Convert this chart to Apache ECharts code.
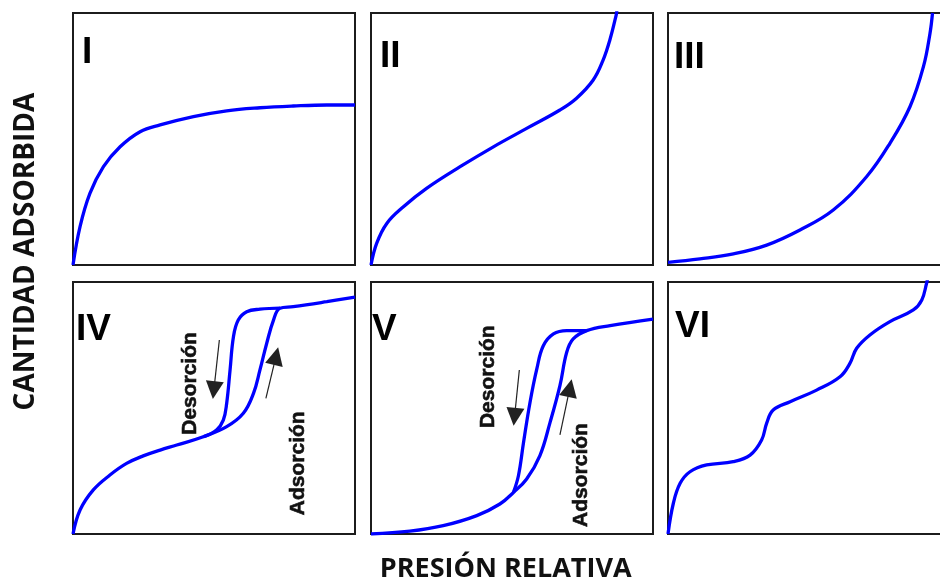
<!DOCTYPE html>
<html>
<head>
<meta charset="utf-8">
<script src="https://cdn.jsdelivr.net/npm/echarts@6/dist/echarts.min.js"></script>
<style>
  html, body { margin: 0; padding: 0; background: #ffffff; }
  #chart { width: 940px; height: 580px; }
</style>
</head>
<body>
<div id="chart"></div>
<script>
// Isotherm types (IUPAC I-VI): relative pressure (0-1) vs adsorbed amount (0-1)
const panelNames = ['I', 'II', 'III', 'IV', 'V', 'VI'];

const typeI = [[0, 0], [0.025, 0.152], [0.06, 0.284], [0.108, 0.39], [0.167, 0.469], [0.238, 0.529],
  [0.309, 0.556], [0.427, 0.589], [0.545, 0.612], [0.663, 0.624], [0.781, 0.631], [0.9, 0.635], [1, 0.635]];

const typeII = [[0, 0], [0.02, 0.086], [0.056, 0.165], [0.115, 0.231], [0.197, 0.304], [0.316, 0.39],
  [0.434, 0.469], [0.552, 0.542], [0.67, 0.615], [0.729, 0.662], [0.788, 0.734], [0.823, 0.813],
  [0.847, 0.893], [0.869, 0.99], [0.872, 1.01]];

const typeIII = [[0, 0.01], [0.113, 0.024], [0.232, 0.044], [0.35, 0.079], [0.468, 0.139], [0.586, 0.218],
  [0.704, 0.35], [0.787, 0.483], [0.858, 0.628], [0.906, 0.788], [0.929, 0.919], [0.938, 1.0]];

const typeIVAdsorcion = [[0, 0], [0.025, 0.095], [0.072, 0.175], [0.131, 0.234], [0.19, 0.28], [0.249, 0.31],
  [0.309, 0.333], [0.368, 0.353], [0.462, 0.386], [0.545, 0.426], [0.604, 0.479], [0.64, 0.558],
  [0.663, 0.651], [0.687, 0.757], [0.711, 0.849], [0.734, 0.896], [0.781, 0.902], [0.9, 0.922], [1, 0.94]];

const typeIVDesorcion = [[0.462, 0.386], [0.509, 0.413], [0.533, 0.452], [0.545, 0.519], [0.557, 0.651],
  [0.569, 0.783], [0.586, 0.849], [0.616, 0.882], [0.663, 0.892], [0.734, 0.896]];

const typeVAdsorcion = [[0, 0], [0.138, 0.011], [0.256, 0.033], [0.375, 0.073], [0.457, 0.119], [0.505, 0.165],
  [0.552, 0.218], [0.599, 0.311], [0.635, 0.443], [0.67, 0.589], [0.694, 0.721], [0.717, 0.774],
  [0.765, 0.807], [0.848, 0.827], [1, 0.853]];

const typeVDesorcion = [[0.505, 0.165], [0.523, 0.232], [0.541, 0.364], [0.564, 0.523], [0.588, 0.655],
  [0.611, 0.747], [0.647, 0.794], [0.694, 0.807], [0.765, 0.807]];

const typeVI = [[0, 0], [0.019, 0.122], [0.043, 0.201], [0.078, 0.247], [0.137, 0.274], [0.231, 0.287],
  [0.291, 0.313], [0.332, 0.373], [0.35, 0.44], [0.373, 0.492], [0.433, 0.525], [0.527, 0.571],
  [0.61, 0.624], [0.645, 0.677], [0.669, 0.737], [0.716, 0.79], [0.787, 0.843], [0.87, 0.889],
  [0.9, 0.929], [0.917, 0.995], [0.92, 1.01]];

// Direction arrows on the hysteresis loops: [from, to]
const arrowsIV = [
  [[0.519, 0.770], [0.4995, 0.571]],   // desorción (down)
  [[0.684, 0.538], [0.720, 0.706]]     // adsorción (up)
];
const arrowsV = [
  [[0.526, 0.651], [0.509, 0.465]],
  [[0.670, 0.393], [0.705, 0.579]]
];

const axisTitleX = 'PRESIÓN RELATIVA';
const axisTitleY = 'CANTIDAD ADSORBIDA';
const branchLabels = ['Desorción', 'Adsorción'];

const BLUE = '#0000ff';
const PANEL_W = 282, PANEL_H = 252;
const panelPos = [
  [73, 13], [371, 13], [668, 13],
  [73, 282], [371, 282], [668, 282]
];

const grids = panelPos.map(([l, t]) => ({
  left: l, top: t, width: PANEL_W, height: PANEL_H,
  outerBoundsMode: 'none',
  show: true, borderColor: '#1c1c1c', borderWidth: 2, backgroundColor: 'transparent'
}));

const hiddenAxis = (i) => ({
  type: 'value', gridIndex: i, min: 0, max: 1,
  show: false
});

function curve(data, idx) {
  return {
    type: 'line', xAxisIndex: idx, yAxisIndex: idx, data: data,
    showSymbol: false, symbol: 'none', smooth: 0.4,
    lineStyle: { color: BLUE, width: 3.3 },
    silent: true, animation: false
  };
}

function arrows(list, idx) {
  return {
    type: 'lines', coordinateSystem: 'cartesian2d', xAxisIndex: idx, yAxisIndex: idx,
    data: list.map(c => ({ coords: c })),
    symbol: ['none', 'triangle'], symbolSize: [0, 18],
    lineStyle: { color: '#222', width: 1.2, opacity: 1 },
    itemStyle: { color: '#000' },
    silent: true, animation: false
  };
}

const series = [
  curve(typeI, 0),
  curve(typeII, 1),
  curve(typeIII, 2),
  curve(typeIVAdsorcion, 3),
  curve(typeIVDesorcion, 3),
  curve(typeVAdsorcion, 4),
  curve(typeVDesorcion, 4),
  curve(typeVI, 5),
  arrows(arrowsIV, 3),
  arrows(arrowsV, 4)
];

// Roman numeral tags, left edge / cap-centre of each panel tag
const tagPos = [[82, 53], [380, 57], [674, 58], [76, 330], [372, 330], [675, 327]];
const tagFont = 'bold 37px "Liberation Sans", Arial, sans-serif';
const branchFont = 'bold 21px "Liberation Sans", Arial, sans-serif';
const titleFont = 'bold 27px "Open Sans", "Noto Sans", sans-serif';
const titleFontY = 'bold 28px "Open Sans", "Noto Sans", sans-serif';

const graphics = [];
panelNames.forEach((name, i) => {
  graphics.push({
    type: 'text', x: tagPos[i][0], y: tagPos[i][1], silent: true,
    style: { text: name, font: tagFont, fill: '#000', align: 'left', verticalAlign: 'middle' }
  });
});

// Rotated branch labels (read bottom to top)
const branchPos = [
  [190.5, 383.5, 0], [298.3, 463.3, 1],
  [488.3, 376.7, 0], [581.7, 475, 1]
];
branchPos.forEach(([x, y, k]) => {
  graphics.push({
    type: 'text', x: x, y: y, rotation: Math.PI / 2, silent: true,
    style: {
      text: branchLabels[k], font: branchFont, fill: '#111', align: 'center', verticalAlign: 'middle',
      stroke: '#111', lineWidth: 0.6
    }
  });
});

graphics.push({
  type: 'text', x: 505.7, y: 569, silent: true,
  style: { text: axisTitleX, font: titleFont, fill: '#111', align: 'center', verticalAlign: 'middle' }
});
graphics.push({
  type: 'text', x: 26, y: 251.5, rotation: Math.PI / 2, silent: true,
  style: { text: axisTitleY, font: titleFontY, fill: '#111', align: 'center', verticalAlign: 'middle' }
});

const chart = echarts.init(document.getElementById('chart'), null, { renderer: 'canvas' });
chart.setOption({
  backgroundColor: '#ffffff',
  animation: false,
  grid: grids,
  xAxis: grids.map((_, i) => hiddenAxis(i)),
  yAxis: grids.map((_, i) => hiddenAxis(i)),
  series: series,
  graphic: graphics
});
</script>
</body>
</html>
